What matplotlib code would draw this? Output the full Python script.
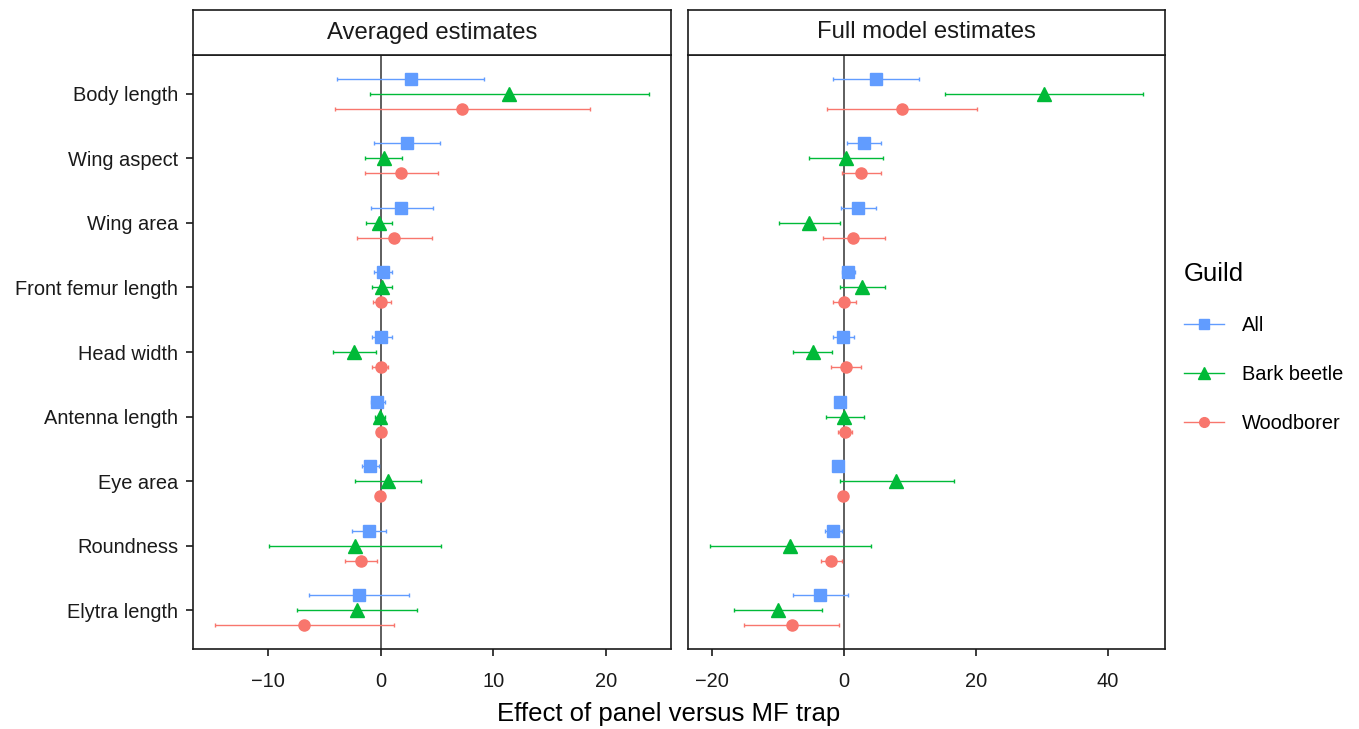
import numpy as np
import matplotlib
matplotlib.use("Agg")
import matplotlib.pyplot as plt
from matplotlib.lines import Line2D
from matplotlib.ticker import MultipleLocator

plt.rcParams["font.family"] = ["Liberation Sans", "DejaVu Sans"]

traits = ["Body length", "Wing aspect", "Wing area", "Front femur length",
          "Head width", "Antenna length", "Eye area", "Roundness", "Elytra length"]
guilds = ["All", "Bark beetle", "Woodborer"]
panels = ["Averaged estimates", "Full model estimates"]

# averaged estimates: estimate, lower, upper (order follows traits)
avg_all = [2.67, 2.32, 1.85, 0.20, 0.08, -0.29, -0.91, -1.06, -1.92]
avg_all_lo = [-3.83, -0.56, -0.85, -0.56, -0.74, -0.88, -1.62, -2.50, -6.30]
avg_all_hi = [9.18, 5.26, 4.65, 1.03, 1.03, 0.35, -0.18, 0.47, 2.50]
avg_bark = [11.41, 0.26, -0.15, 0.11, -2.35, -0.03, 0.62, -2.30, -2.12]
avg_bark_lo = [-0.94, -1.38, -1.30, -0.74, -4.20, -0.45, -2.30, -9.89, -7.42]
avg_bark_hi = [23.80, 1.94, 1.03, 0.97, -0.44, 0.40, 3.56, 5.35, 3.23]
avg_wood = [7.23, 1.82, 1.23, 0.08, 0.00, 0.08, -0.09, -1.77, -6.74]
avg_wood_lo = [-4.00, -1.38, -2.09, -0.65, -0.74, -0.20, -0.25, -3.15, -14.69]
avg_wood_hi = [18.53, 5.12, 4.56, 0.88, 0.70, 0.35, 0.08, -0.29, 1.17]

# full model estimates
full_all = [4.88, 3.07, 2.11, 0.66, -0.05, -0.50, -0.80, -1.55, -3.62]
full_all_lo = [-1.60, 0.50, -0.45, -0.30, -1.60, -0.90, -1.10, -2.76, -7.74]
full_all_hi = [11.42, 5.73, 4.88, 1.72, 1.61, -0.10, -0.50, -0.20, 0.71]
full_bark = [30.37, 0.35, -5.22, 2.82, -4.67, 0.10, 8.00, -8.19, -9.95]
full_bark_lo = [15.29, -5.22, -9.85, -0.60, -7.69, -2.71, -0.60, -20.30, -16.69]
full_bark_hi = [45.40, 5.99, -0.55, 6.24, -1.70, 3.07, 16.65, 4.08, -3.21]
full_wood = [8.85, 2.62, 1.46, 0.10, 0.30, 0.20, -0.05, -1.90, -7.89]
full_wood_lo = [-2.46, -0.30, -3.11, -1.60, -1.96, -0.85, -0.30, -3.47, -15.03]
full_wood_hi = [20.20, 5.64, 6.24, 1.92, 2.62, 1.31, 0.20, -0.30, -0.75]

colors = {"All": "#619CFF", "Bark beetle": "#00BA38", "Woodborer": "#F8766D"}
markers = {"All": "s", "Bark beetle": "^", "Woodborer": "o"}
msizes = {"All": 8, "Bark beetle": 9.5, "Woodborer": 8}
offsets = {"All": -0.233, "Bark beetle": 0.0, "Woodborer": 0.233}

data = {
    panels[0]: {
        "All": (avg_all, avg_all_lo, avg_all_hi),
        "Bark beetle": (avg_bark, avg_bark_lo, avg_bark_hi),
        "Woodborer": (avg_wood, avg_wood_lo, avg_wood_hi),
    },
    panels[1]: {
        "All": (full_all, full_all_lo, full_all_hi),
        "Bark beetle": (full_bark, full_bark_lo, full_bark_hi),
        "Woodborer": (full_wood, full_wood_lo, full_wood_hi),
    },
}

W, H = 1359, 729
fig = plt.figure(figsize=(W / 100, H / 100), dpi=100)

def box(x0, x1, y0, y1):
    return [x0 / W, 1 - y1 / H, (x1 - x0) / W, (y1 - y0) / H]

panel_x = [(193, 671), (688, 1165)]
tick_steps = [10, 20]
y = np.arange(len(traits))

for i, name in enumerate(panels):
    x0, x1 = panel_x[i]
    ax = fig.add_axes(box(x0, x1, 55, 649))
    for g in guilds:
        est, lo, hi = (np.array(v) for v in data[name][g])
        yy = y + offsets[g]
        ax.errorbar(est, yy, xerr=[est - lo, hi - est], fmt="none",
                    ecolor=colors[g], elinewidth=1.0, capsize=1.5, capthick=1.0,
                    zorder=2)
        ax.plot(est, yy, linestyle="none", marker=markers[g], ms=msizes[g],
                color=colors[g], mec=colors[g], zorder=3)
    ax.axvline(0, color="#333333", lw=1.1, zorder=1)
    ax.margins(x=0.05)
    ax.set_ylim(len(traits) - 0.4, -0.6)
    ax.set_yticks(y)
    ax.xaxis.set_major_locator(MultipleLocator(tick_steps[i]))
    ax.tick_params(axis="x", labelsize=14.4, labelcolor="#1a1a1a", pad=11.5,
                   length=5, width=1.2, color="#1a1a1a")
    if i == 0:
        ax.set_yticklabels(traits, fontsize=14.4, color="#1a1a1a")
        ax.tick_params(axis="y", length=5, width=1.2, color="#1a1a1a", pad=5.8)
    else:
        ax.set_yticklabels([])
        ax.tick_params(axis="y", length=0)
    for s in ax.spines.values():
        s.set_linewidth(1.2)
        s.set_color("#1a1a1a")

    strip = fig.add_axes(box(x0, x1, 10, 55))
    strip.set_xticks([])
    strip.set_yticks([])
    for s in strip.spines.values():
        s.set_linewidth(1.2)
        s.set_color("#1a1a1a")
    strip.text(0.5, 0.5, name, ha="center", va="center", fontsize=17.2,
               color="#1a1a1a", transform=strip.transAxes)

fig.text(669 / W, 1 - 714 / H, "Effect of panel versus MF trap",
         ha="center", va="center", fontsize=18.5)

handles = [Line2D([0], [0], color=colors[g], marker=markers[g], ms=msizes[g] - 1,
                  lw=1.0) for g in guilds]
leg = fig.legend(handles, guilds, loc="upper left",
                 bbox_to_anchor=(1166 / W, 1 - 244 / H), frameon=False,
                 title="Guild", title_fontsize=18.5, fontsize=14.4,
                 handlelength=2.0, labelspacing=1.5, handletextpad=0.9)
leg._legend_box.align = "left"

fig.savefig("out.png", dpi=100)
